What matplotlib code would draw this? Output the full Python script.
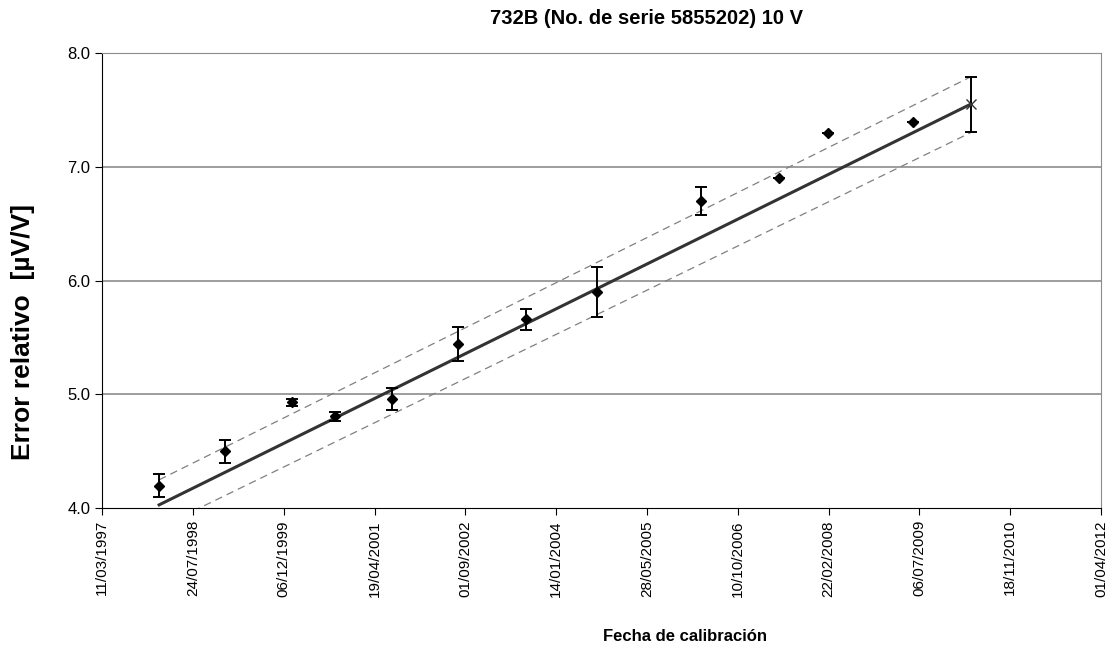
import datetime as dt
import matplotlib
matplotlib.use("Agg")
import matplotlib.pyplot as plt

matplotlib.rcParams['font.family'] = ['Liberation Sans', 'DejaVu Sans']

# calibration points (date, relative error uV/V, uncertainty)
cal_dates = [dt.date(1998, 1, 19), dt.date(1999, 1, 16), dt.date(2000, 1, 20),
             dt.date(2000, 9, 14), dt.date(2001, 7, 25), dt.date(2002, 7, 23),
             dt.date(2003, 8, 2), dt.date(2004, 8, 27), dt.date(2006, 3, 21),
             dt.date(2007, 5, 26), dt.date(2008, 2, 20), dt.date(2009, 6, 2)]
cal_vals = [4.20, 4.50, 4.93, 4.81, 4.96, 5.44, 5.66, 5.90, 6.70, 6.90, 7.30, 7.39]
cal_err = [0.10, 0.10, 0.03, 0.04, 0.10, 0.15, 0.09, 0.22, 0.12, 0.0, 0.0, 0.0]

# predicted value
pred_date = [dt.date(2010, 4, 13)]
pred_val = [7.55]
pred_err = [0.24]

# fit line and bands
trend_dates = [dt.date(1998, 1, 19), dt.date(2010, 4, 13)]
trend_vals = [4.03, 7.55]
upper_vals = [4.25, 7.79]
lower_vals = [3.83, 7.30]

tick_start = dt.date(1997, 3, 11)
tick_dates = [tick_start + dt.timedelta(days=500 * i) for i in range(12)]

fig = plt.figure(figsize=(11.1, 6.55), dpi=100)
ax = fig.add_axes([0.092, 0.224, 0.9, 0.695])

for yv in [5.0, 6.0, 7.0, 8.0]:
    ax.axhline(yv, color="#8c8c8c", lw=1.2, zorder=0)

ax.plot(trend_dates, upper_vals, color="#808080", lw=0.9, linestyle=(0, (6, 4)), zorder=1)
ax.plot(trend_dates, lower_vals, color="#808080", lw=0.9, linestyle=(0, (6, 4)), zorder=1)
ax.plot(trend_dates, trend_vals, color="#333333", lw=2.2, zorder=2)

ax.errorbar(cal_dates, cal_vals, yerr=cal_err, fmt="D", color="black", ms=5.5,
            ecolor="black", elinewidth=1.4, capsize=4, capthick=1.4, zorder=3)
ax.errorbar(pred_date, pred_val, yerr=pred_err, fmt="x", color="#333333", ms=7,
            ecolor="black", elinewidth=1.4, capsize=4, capthick=1.4, zorder=3)

ax.set_xlim(tick_dates[0], tick_dates[-1])
ax.set_ylim(4.0, 8.0)
ax.set_yticks([4.0, 5.0, 6.0, 7.0, 8.0])
ax.set_yticklabels(["4.0", "5.0", "6.0", "7.0", "8.0"], fontsize=12)
ax.set_xticks(tick_dates)
ax.set_xticklabels([d.strftime("%d/%m/%Y") for d in tick_dates], rotation=90, fontsize=11)
ax.tick_params(axis="both", direction="out", length=5, color="black")

ax.spines['top'].set_color("#8c8c8c")
ax.spines['right'].set_color("#8c8c8c")
ax.spines['left'].set_color("black")
ax.spines['bottom'].set_color("black")

fig.text(0.021, 0.493, "Error relativo  [\u00b5V/V]", fontsize=19, fontweight="bold",
         rotation=90, ha="center", va="center")
fig.text(0.617, 0.028, "Fecha de calibración", fontsize=12, fontweight="bold",
         ha="center", va="center")
fig.text(0.582, 0.972, "732B (No. de serie 5855202) 10 V", fontsize=14.5, fontweight="bold",
         ha="center", va="center")

fig.savefig("out.png", dpi=100)
